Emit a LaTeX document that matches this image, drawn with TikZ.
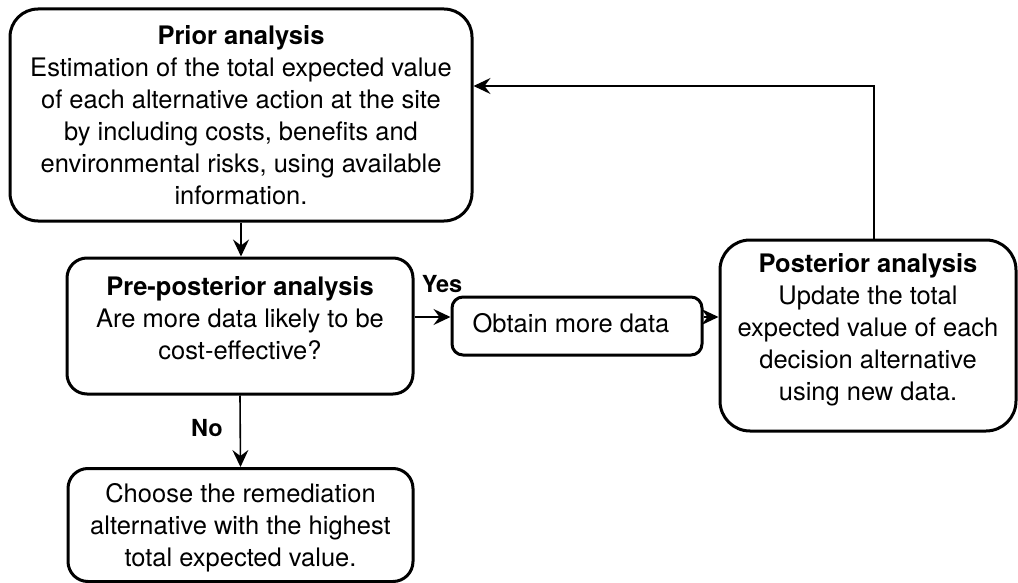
\documentclass[tikz,border=0pt]{standalone}
\usepackage{fontspec}
\setmainfont{TeX Gyre Heros}
\usetikzlibrary{arrows.meta}
\begin{document}
\begin{tikzpicture}[x=1pt,y=-1pt,
  box/.style={draw, line width=3pt, rounded corners=#1, inner sep=0pt, fill=white},
  txt/.style={align=center, inner sep=0pt, font=\fontsize{25.5}{32}\selectfont},
  conn/.style={line width=1.6pt, -{Stealth[length=17pt,width=16pt,inset=6pt]}},
  lbl/.style={inner sep=0pt, font=\fontsize{23.5}{27}\selectfont\bfseries}]
\useasboundingbox[fill=white] (0,0) rectangle (1018,583);

% boxes
\node[box=28pt, minimum width=462pt, minimum height=212pt] (prior) at (241,115) {};
\node[box=20pt, minimum width=346pt, minimum height=136pt] (pre) at (240,326) {};
\node[box=20pt, minimum width=345pt, minimum height=113pt] (choose) at (240.5,525) {};
\node[box=11pt, minimum width=250pt, minimum height=58pt] (obtain) at (577,326) {};
\node[box=30pt, minimum width=296pt, minimum height=191pt] (post) at (868,335.5) {};

% box texts
\node[txt] (priortxt) at (241,115) {\textbf{Prior analysis}\\Estimation of the total expected value\\of each alternative action at the site\\by including costs, benefits and\\environmental risks, using available\\information.};
\node[txt] (pretxt) at (240,318) {\textbf{Pre-posterior analysis}\\Are more data likely to be\\cost-effective?};
\node[txt] (choosetxt) at (240.5,528) {Choose the remediation\\alternative with the highest\\total expected value.};
\node[txt] (obtaintxt) at (571,323) {Obtain more data};
\node[txt] (posttxt) at (868,330) {\textbf{Posterior analysis}\\Update the total\\expected value of each\\decision alternative\\using new data.};

% connectors
\draw[conn] (prior.south) -- (prior.south |- pre.north);
\draw[conn] (pre.south) -- (choose.north);
\draw[conn] ([yshift=9pt]pre.east) -- ([yshift=9pt]obtain.west);
\draw[conn] ([yshift=9pt]obtain.east) -- ([yshift=9pt]obtain.east -| post.west);
\draw[conn] ([xshift=6pt]post.north) |- ([yshift=29pt]prior.east);

% branch labels
\node[lbl] (yes) at (442,284) {Yes};
\node[lbl] (no) at (207,428) {No};
\end{tikzpicture}
\end{document}
